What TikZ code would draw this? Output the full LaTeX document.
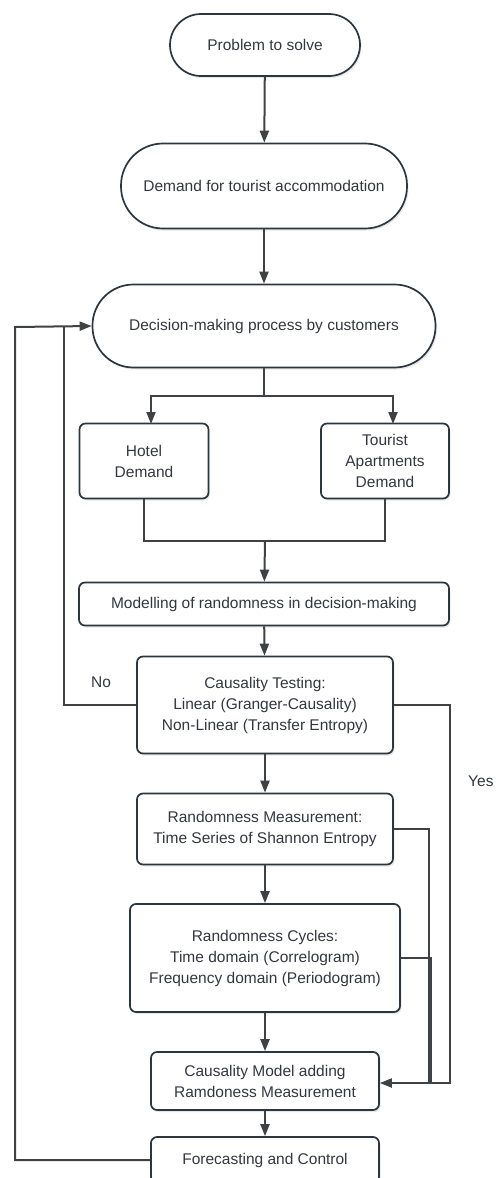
\documentclass[tikz,border=0pt]{standalone}
\usepackage{fontspec}
\setmainfont{Liberation Sans}
\usetikzlibrary{arrows.meta,shadows,calc}
\definecolor{linec}{HTML}{3F4245}
\definecolor{boxc}{HTML}{2C3640}
\definecolor{txtc}{HTML}{333840}
\begin{document}
\begin{tikzpicture}[x=1pt,y=-1pt,
  line/.style={draw=linec, line width=2pt},
  arr/.style={line, -{Triangle[width=9pt,length=12pt]}},
  base/.style={draw=boxc, line width=1.7pt, fill=white, text=txtc, align=center,
     font=\fontsize{15.5}{21}\selectfont, inner sep=2pt,
     drop shadow={opacity=0.18, shadow xshift=1.5pt, shadow yshift=-2pt}},
  stadium/.style={base},
  boxn/.style={base, rounded corners=6pt},
  lbl/.style={text=txtc, font=\fontsize{15.5}{18}\selectfont}]
\clip (0,0) rectangle (497,1178);
\fill[white] (0,0) rectangle (497,1178);

\node[stadium, rounded corners=31pt, minimum width=190pt, minimum height=62pt] (p) at (265,45) {Problem to solve};
\node[stadium, rounded corners=42pt, minimum width=286pt, minimum height=85pt] (d) at (264,186) {Demand for tourist accommodation};
\node[stadium, rounded corners=41pt, minimum width=343pt, minimum height=83pt] (dm) at (264,326) {Decision-making process by customers};

\node[boxn, minimum width=129pt, minimum height=75pt] (h) at (144,461) {Hotel\\Demand};
\node[boxn, minimum width=128pt, minimum height=75pt] (t) at (385,461) {Tourist\\Apartments\\Demand};

\node[boxn, minimum width=370pt, minimum height=43pt] (m) at (264,604) {Modelling of randomness in decision-making};
\node[boxn, minimum width=256pt, minimum height=97pt] (ct) at (265,705) {Causality Testing:\\Linear (Granger-Causality)\\Non-Linear (Transfer Entropy)};
\node[boxn, minimum width=256pt, minimum height=71pt] (rm) at (265,829) {Randomness Measurement:\\Time Series of Shannon Entropy};
\node[boxn, minimum width=270pt, minimum height=108pt] (rc) at (265,958) {Randomness Cycles:\\Time domain (Correlogram)\\Frequency domain (Periodogram)};
\node[boxn, minimum width=228pt, minimum height=58pt] (cm) at (265,1081) {Causality Model adding\\Ramdoness Measurement};
\node[boxn, minimum width=228pt, minimum height=46pt] (fc) at (265,1160) {Forecasting and Control};

\node[lbl] (no) at (101,682) {No};
\node[lbl, anchor=west, inner sep=0pt] (yes) at (468,781) {Yes};

\coordinate (sp) at (264,396);
\coordinate (j) at (265,541);
\coordinate (ha) at (151,424);
\coordinate (ta) at (393,424);

\draw[arr] (p) -- (d);
\draw[arr] (d) -- (dm);
\draw[line] (dm.south) -- (sp);
\draw[arr] (sp) -| (ha);
\draw[arr] (sp) -| (ta);
\draw[line] (h.south) -- (h.south |- j) -- (t.south |- j) -- (t.south);
\draw[arr] (j) -- (m);
\draw[arr] (m) -- (ct);
\draw[arr] (ct) -- (rm);
\draw[arr] (rm) -- (rc);
\draw[arr] (rc) -- (cm);
\draw[arr] (cm) -- (fc);

\draw[line] (ct.west) -- (64,705) -- (64,327);
\draw[arr] (fc.west) -- (15,1160) -- (15,327) -- (dm.west);

\draw[line] (rm.east) -- (429,829) -- (429,1083);
\draw[line] (rc.east) -- (431,958) -- (431,1083);
\draw[arr] (ct.east) -- (450,705) -- (450,1083) -- (cm.east |- 0,1083);
\end{tikzpicture}
\end{document}
